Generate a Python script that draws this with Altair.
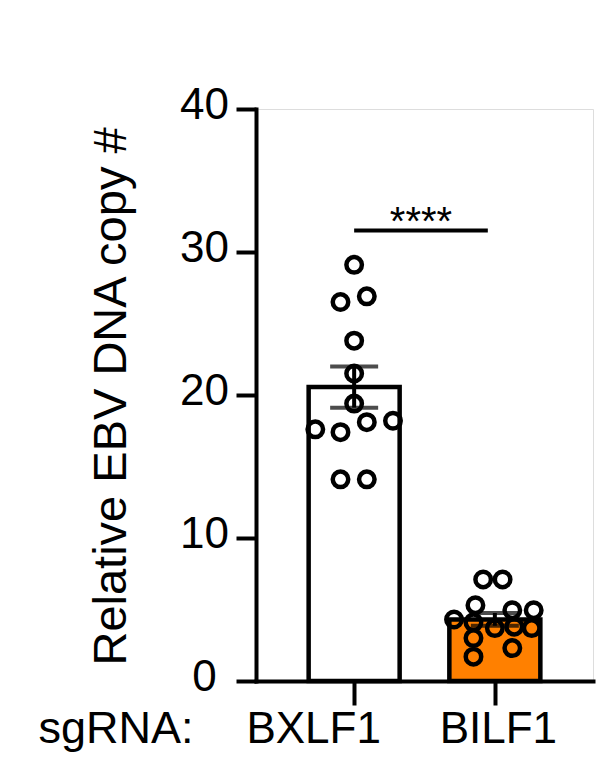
import altair as alt
import pandas as pd

# ---- data ----
categories = ["BXLF1", "BILF1"]
cat_pos = [1, 2]
bar_colors = ["#FFFFFF", "#FF8000"]

bxlf1_values = [29.1, 26.5, 26.9, 23.8, 21.5, 19.4, 17.6, 17.4, 18.1, 18.2, 14.1, 14.1]
bxlf1_jitter = [0.0, -0.097, 0.09, 0.0, 0.0, 0.0, -0.276, -0.097, 0.09, 0.276, -0.097, 0.09]

bilf1_values = [7.1, 7.1, 5.3, 4.95, 4.95, 4.3, 4.1, 3.7, 3.8, 3.7, 3.0, 2.3, 1.7]
bilf1_jitter = [-0.083, 0.055, -0.138, 0.124, 0.276, -0.29, -0.152, 0.0, 0.138, 0.262, -0.152, 0.124, -0.152]

y_ticks = [0, 10, 20, 30, 40]
sig_x = [1.0, 1.95]
sig_y = 31.5
sig_label = "****"
x_title = "sgRNA:"
y_title = "Relative EBV DNA copy #"

rows = []
for v, j in zip(bxlf1_values, bxlf1_jitter):
    rows.append({"group": categories[0], "pos": cat_pos[0], "value": v, "jit": j})
for v, j in zip(bilf1_values, bilf1_jitter):
    rows.append({"group": categories[1], "pos": cat_pos[1], "value": v, "jit": j})
df = pd.DataFrame(rows)

sig_df = pd.DataFrame({"x": [sig_x[0]], "x2": [sig_x[1]], "y": [sig_y],
                       "xm": [(sig_x[0] + sig_x[1]) / 2], "label": [sig_label]})

FONT = "Liberation Sans"

label_expr = " : ".join(
    [f"datum.value == {p} ? '{c}'" for p, c in zip(cat_pos[:-1], categories[:-1])]
    + [f"'{categories[-1]}'"]
)

x_scale = alt.Scale(domain=[0.338, 2.662], nice=False, zero=False)
y_scale = alt.Scale(domain=[0, 40], nice=False)

x_axis = alt.Axis(
    values=cat_pos, labelExpr=label_expr, grid=False,
    domainColor="black", domainWidth=4, domainCap="square",
    tickColor="black", tickWidth=4, tickSize=24,
    labelFont=FONT, labelFontSize=44, labelColor="black",
    labelBaseline="alphabetic", labelPadding=37, labelAlign="center",
    labelOffset={"condition": {"test": "datum.value == 1", "value": -41}, "value": 3},
    title=x_title, titleFont=FONT, titleFontSize=45, titleFontWeight="normal",
    titleColor="black", titleX=-63, titleY=61, titleAlign="right",
    titleBaseline="alphabetic", titleAngle=0,
)
y_axis = alt.Axis(
    values=y_ticks, grid=False,
    domainColor="black", domainWidth=4, domainCap="square",
    tickColor="black", tickWidth=4, tickSize=20,
    labelFont=FONT, labelFontSize=44, labelColor="black",
    labelAlign="center", labelBaseline="middle", labelPadding=32, labelOffset=-4,
    title=y_title, titleFont=FONT, titleFontSize=47, titleFontWeight="normal",
    titleColor="black", titleX=-131, titleY=287, titleAngle=270,
    titleAlign="center", titleBaseline="alphabetic",
)

base = alt.Chart(df)

bars = base.mark_bar(size=91, stroke="black", strokeWidth=4.5).encode(
    x=alt.X("pos:Q", scale=x_scale, axis=x_axis, title=x_title),
    y=alt.Y("mean(value):Q", scale=y_scale, axis=y_axis, title=y_title),
    color=alt.Color("group:N", scale=alt.Scale(domain=categories, range=bar_colors), legend=None),
)

err = base.mark_errorbar(extent="stderr", ticks=True, size=48, thickness=4,
                         color="black", orient="vertical").encode(
    x=alt.X("pos:Q", scale=x_scale, title=x_title),
    y=alt.Y("value:Q", scale=y_scale, title=y_title),
)

pts = base.transform_calculate(xj="datum.pos + datum.jit").mark_point(
    filled=False, size=240, strokeWidth=4.5, color="black", opacity=1
).encode(
    x=alt.X("xj:Q", scale=x_scale, title=x_title),
    y=alt.Y("value:Q", scale=y_scale, title=y_title),
)

sig_base = alt.Chart(sig_df)
sig_rule = sig_base.mark_rule(strokeWidth=4, color="black").encode(
    x=alt.X("x:Q", scale=x_scale, title=x_title), x2="x2:Q",
    y=alt.Y("y:Q", scale=y_scale, title=y_title)
)
sig_text = sig_base.mark_text(font=FONT, fontSize=40, baseline="alphabetic",
                              align="center", color="black", dy=4).encode(
    x=alt.X("xm:Q", scale=x_scale, title=x_title),
    y=alt.Y("y:Q", scale=y_scale, title=y_title), text="label:N"
)

chart = alt.layer(bars, pts, err, sig_rule, sig_text).properties(
    width=337, height=572,
    autosize=alt.AutoSizeParams(type="none"),
    padding={"left": 248, "top": 101, "right": 9, "bottom": 91},
).configure_view(stroke=None).configure(background="white")

chart.save("out.html", embed_options={"renderer": "svg", "actions": False})
